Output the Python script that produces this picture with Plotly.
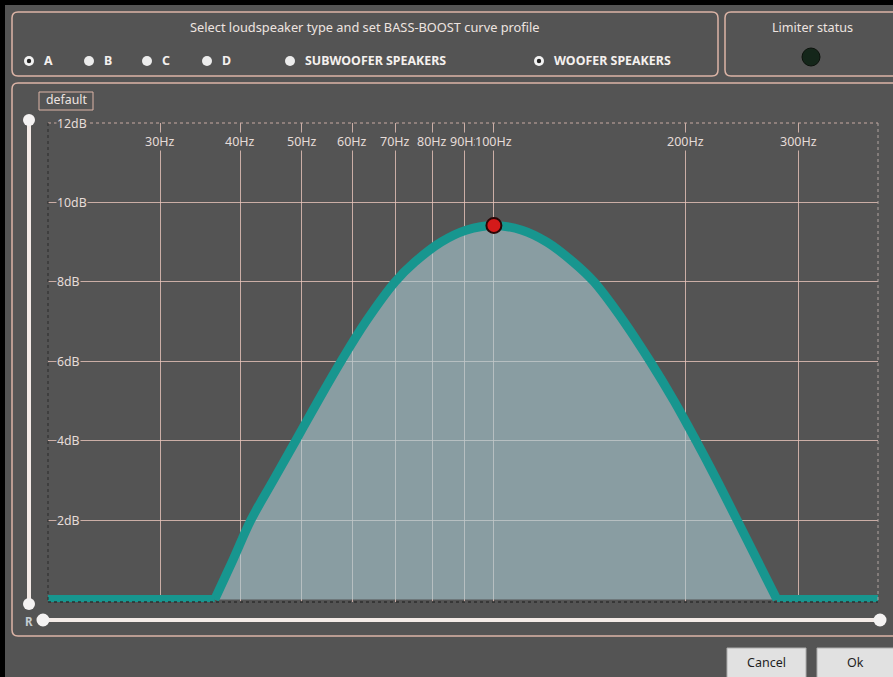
import math
import plotly.graph_objects as go

# ---------------- data ----------------
# boost curve: frequency in Hz, gain in dB
bump_freq_hz = [36.5, 39.0, 41.6, 45.1, 48.9, 53.0, 57.6, 63.0, 70.0, 75.2, 82.6, 90.4, 100,
                110.7, 121.1, 133.1, 143.5, 159.9, 175.7, 191.6, 207.4, 223.7, 240.5, 258.5, 277.8]
bump_gain_db = [0, 1.0, 2.0, 3.0, 4.0, 5.0, 6.0, 7.0, 8.0, 8.5, 9.0, 9.3, 9.42,
                9.3, 9.0, 8.5, 8.0, 7.0, 6.0, 5.0, 4.0, 3.0, 2.0, 1.0, 0]
flat_low_hz = [20, 36.5]
flat_high_hz = [277.8, 400]
flat_gain_db = [0, 0]
peak_freq = [100]
peak_gain = [9.42]
x_ticks = [30, 40, 50, 60, 70, 80, 90, 100, 200, 300]
x_tick_labels = ["30Hz", "40Hz", "50Hz", "60Hz", "70Hz", "80Hz", "90Hz", "100Hz", "200Hz", "300Hz"]
y_ticks = [2, 4, 6, 8, 10, 12]
y_tick_labels = ["2dB", "4dB", "6dB", "8dB", "10dB", "12dB"]
radio_labels = ["A", "B", "C", "D", "SUBWOOFER SPEAKERS", "WOOFER SPEAKERS"]
radio_selected = [True, False, False, False, False, True]

# ---------------- layout geometry (pixels) ----------------
W, H = 893, 677
L, R, T, B = 48, 15, 123, 75
PW, PH = W - L - R, H - T - B
Y0 = H - B  # pixel row of plot bottom

BG = "#545454"
BORDER = "#dcb4a6"
TXT = "#eee4e0"
FONT = "Noto Sans"
TEAL = "#17968f"


def px(x):
    return (x - L) / PW


def py(y):
    return (Y0 - y) / PH


def rrect(x0, y0, x1, y1, r):
    pts = [
        ("M", [(x0 + r, y0)]), ("L", [(x1 - r, y0)]), ("Q", [(x1, y0), (x1, y0 + r)]),
        ("L", [(x1, y1 - r)]), ("Q", [(x1, y1), (x1 - r, y1)]), ("L", [(x0 + r, y1)]),
        ("Q", [(x0, y1), (x0, y1 - r)]), ("L", [(x0, y0 + r)]), ("Q", [(x0, y0), (x0 + r, y0)]),
    ]
    s = ""
    for cmd, ps in pts:
        s += cmd + " " + " ".join(f"{px(a):.5f},{py(b):.5f}" for a, b in ps) + " "
    return s + "Z"


shapes = []
annotations = []


def circle(cx, cy, r, fill, line=None, lw=0):
    shapes.append(dict(type="circle", xref="paper", yref="paper",
                       x0=px(cx - r), x1=px(cx + r), y0=py(cy + r), y1=py(cy - r),
                       fillcolor=fill, line=dict(color=line or fill, width=lw), layer="above"))


def rect(x0, y0, x1, y1, fill, line=None, lw=0):
    shapes.append(dict(type="rect", xref="paper", yref="paper",
                       x0=px(x0), x1=px(x1), y0=py(y1), y1=py(y0),
                       fillcolor=fill, line=dict(color=line or fill, width=lw), layer="above"))


def seg(x0, y0, x1, y1, color, w, dash="solid"):
    shapes.append(dict(type="line", xref="paper", yref="paper",
                       x0=px(x0), x1=px(x1), y0=py(y0), y1=py(y1),
                       line=dict(color=color, width=w, dash=dash), layer="above"))


def text(x, y, s, size=12, color=TXT, xanchor="center", weight="normal"):
    annotations.append(dict(xref="paper", yref="paper", x=px(x), y=py(y), text=s,
                            showarrow=False, xanchor=xanchor, yanchor="middle",
                            font=dict(family=FONT, size=size, color=color, weight=weight)))


# window edges
rect(0, 0, 5, H, "black")
rect(0, 0, W, 5, "black")

# panels
for path in [rrect(12, 12, 718, 76, 6), rrect(725, 12, 905, 76, 6), rrect(12, 83, 905, 636, 6)]:
    shapes.append(dict(type="path", xref="paper", yref="paper", path=path,
                       line=dict(color=BORDER, width=1.5), layer="above"))

text(365, 27, "Select loudspeaker type and set BASS-BOOST curve profile", size=12.8)
text(812, 27, "Limiter status", size=12.6)
circle(811, 57, 9, "#14261a", "#0c120c", 1)

# radio buttons
radio_x = [29, 89, 147, 207, 290, 539]
for rx, lab, sel in zip(radio_x, radio_labels, radio_selected):
    if sel:
        circle(rx, 61, 5, "#f2f2f2")
        circle(rx, 61, 2.2, "#262626")
    else:
        circle(rx, 61, 5, "#ececec")
    text(rx + 13, 61, lab, size=12.4, color="#f4f0ee", xanchor="left", weight="bold")

# default tab
shapes.append(dict(type="rect", xref="paper", yref="paper", x0=px(39), x1=px(93),
                   y0=py(110), y1=py(92), line=dict(color=BORDER, width=1), layer="above"))
text(66, 100, "default", size=12.3)

# plot frame (dotted)
seg(48, 123, 878, 123, "#c8aaa2", 1, "dot")
seg(878, 123, 878, Y0, "#b0a4a0", 1, "dot")
seg(48, 123, 48, Y0, "#2a2a2a", 1, "dot")
seg(48, Y0, 878, Y0, "#2e2e2e", 1.5, "dot")

# sliders
SL = "#f4ebe7"
seg(29, 120, 29, 604, SL, 4)
circle(29, 120, 6, "#f4f2f2")
circle(29, 604, 6, "#f4f2f2")
seg(43, 620, 880, 620, SL, 4)
circle(43, 620, 6.5, "#f4f2f2")
circle(880, 620, 6.5, "#f4f2f2")
text(29, 621, "R", size=11.5, color="#c4ccd2", weight="bold")

# buttons
rect(727, 648, 806, 682, "#e1e1e1", "#adadad", 1)
rect(817, 648, 898, 682, "#e1e1e1", "#adadad", 1)
text(766, 662, "Cancel", size=12.5, color="#1e1e1e")
text(855, 662, "Ok", size=12.5, color="#1e1e1e")

# tick labels placed via axis coordinates
for f, lab in zip(x_ticks, x_tick_labels):
    annotations.append(dict(xref="x", yref="paper", x=math.log10(f), y=py(141), text=lab,
                            showarrow=False, xanchor="center", yanchor="middle",
                            bgcolor=BG, borderpad=0,
                            font=dict(family=FONT, size=12.5, color="#e6dcd8")))
for v, lab in zip(y_ticks, y_tick_labels):
    annotations.append(dict(xref="paper", yref="y", x=px(56), y=v, text=lab,
                            showarrow=False, xanchor="left", yanchor="middle",
                            bgcolor=BG, borderpad=0,
                            font=dict(family=FONT, size=12.3, color="#e6dcd8")))

fig = go.Figure()
fig.add_trace(go.Scatter(x=bump_freq_hz, y=bump_gain_db, mode="lines", fill="tozeroy",
                         fillcolor="rgba(169,202,210,0.62)",
                         line=dict(color=TEAL, width=9, shape="spline", smoothing=1.0),
                         hoverinfo="skip", showlegend=False))
for fx in (flat_low_hz, flat_high_hz):
    fig.add_trace(go.Scatter(x=fx, y=flat_gain_db, mode="lines",
                             line=dict(color=TEAL, width=9),
                             hoverinfo="skip", showlegend=False))
fig.add_trace(go.Scatter(x=peak_freq, y=peak_gain, mode="markers",
                         marker=dict(size=15, color="#d41a1a", line=dict(color="#2a0606", width=2)),
                         hoverinfo="skip", showlegend=False))

grid = "rgba(232,196,186,0.8)"
fig.update_layout(
    width=W, height=H, margin=dict(l=L, r=R, t=T, b=B),
    paper_bgcolor=BG, plot_bgcolor=BG,
    xaxis=dict(type="log", range=[math.log10(20), math.log10(400)], tickvals=x_ticks,
               showticklabels=False, ticks="", showgrid=True,
               gridcolor=grid, gridwidth=1, zeroline=False, showline=False),
    yaxis=dict(range=[-0.063, 12], tickvals=[v for v in y_ticks if v < 12],
               showticklabels=False, ticks="", showgrid=True, gridcolor=grid, gridwidth=1,
               zeroline=False, showline=False),
    shapes=shapes, annotations=annotations,
)

fig.write_html("out.html", config={"displayModeBar": False},
               post_script="document.body.style.margin='0';document.body.style.overflow='hidden';")
